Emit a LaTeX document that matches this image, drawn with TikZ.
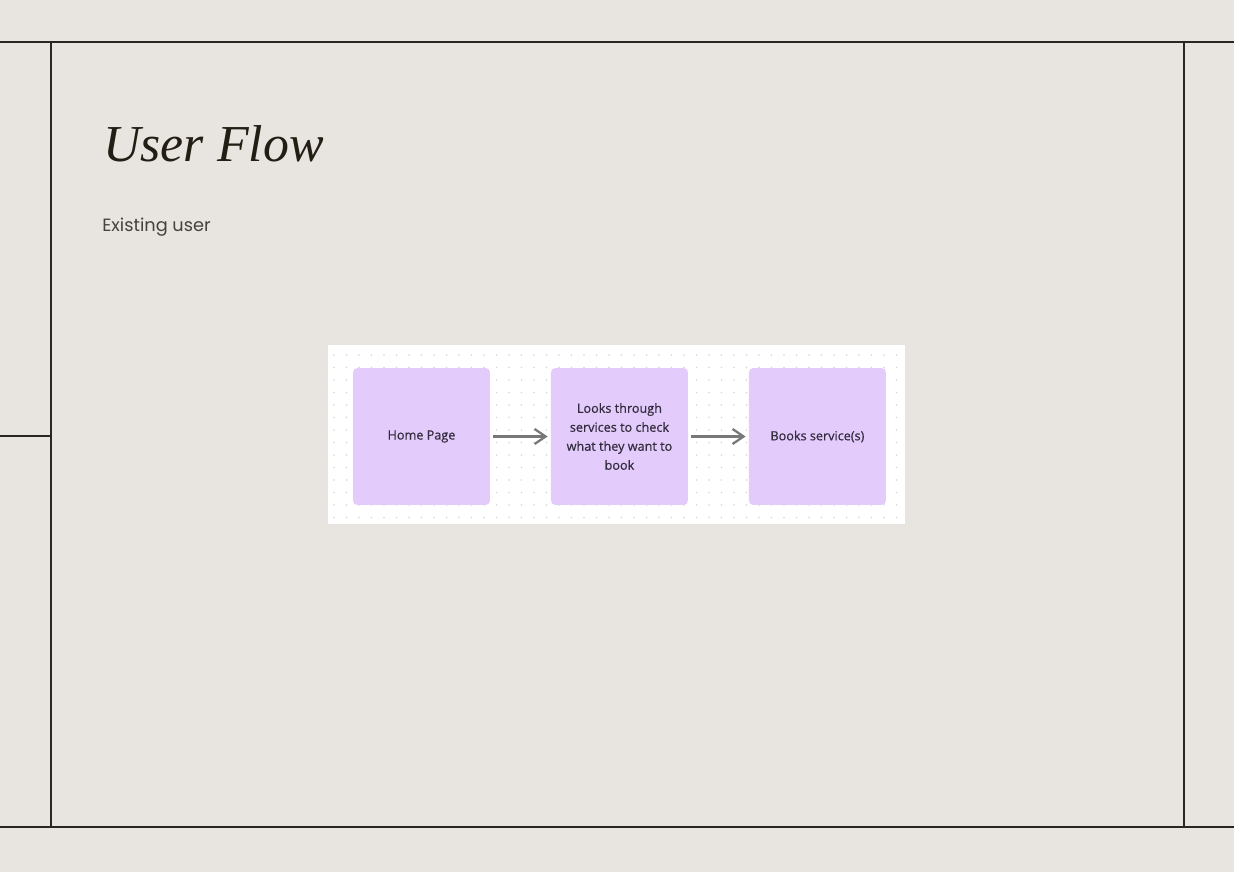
\documentclass[tikz,border=0pt]{standalone}
\usepackage{fontspec}
\setsansfont{Open Sans}
\newfontfamily\subfont{Poppins}
\newfontfamily\titlefont{Liberation Serif}
\newfontfamily\boxfont[FakeBold=0.6]{Open Sans}
\usetikzlibrary{positioning, arrows.meta}

\definecolor{paper}{HTML}{E8E4DF}
\definecolor{frameline}{HTML}{2B2720}
\definecolor{titleink}{HTML}{221E14}
\definecolor{subink}{HTML}{45413B}
\definecolor{boxfill}{HTML}{E3CCFB}
\definecolor{boxink}{HTML}{342C3F}
\definecolor{arrowgray}{HTML}{787878}
\definecolor{dotgray}{HTML}{D6D6DA}

\tikzset{
  frame/.style={draw=frameline, line width=0.85pt},
  stepbox/.style={fill=boxfill, rounded corners=2.5pt, minimum width=2.74cm, minimum height=2.74cm,
    align=center, text=boxink, font=\boxfont\fontsize{7.2}{10.8}\selectfont},
  flowarrow/.style={draw=arrowgray, line width=1.3pt, -{Straight Barb[length=2.2mm, width=3mm]},
    shorten <=0.06cm, shorten >=0.06cm}
}

\begin{document}
\begin{tikzpicture}[x=0.02cm, y=-0.02cm, node distance=3.96cm, on grid]
  \fill[paper] (0,0) rectangle (1234,872);
  \useasboundingbox (0,0) rectangle (1234,872);

  % page frame
  \draw[frame] (0,42) -- (1234,42);
  \draw[frame] (0,827) -- (1234,827);
  \draw[frame] (51,42) -- (51,827);
  \draw[frame] (1184,42) -- (1184,827);
  \draw[frame] (0,436) -- (51,436);

  % headings
  \node[anchor=base west, inner sep=0pt, text=titleink, font=\titlefont\itshape\fontsize{29.5}{34}\selectfont] (title) at (103,161) {User Flow};
  \node[anchor=base west, inner sep=0pt, text=subink, font=\subfont\fontsize{10.1}{12}\selectfont] (subtitle) at (102,231) {Existing user};

  % whiteboard with dot grid
  \fill[white] (328,345) rectangle (905,524);
  \foreach \i in {0,...,45}
    \foreach \j in {0,...,13}
      \fill[dotgray] (334+\i*12.5, 355+\j*12.5) circle (0.45pt);

  % flow
  \node[stepbox] (home) at (421.5,436.5) {Home Page};
  \node[stepbox, right=of home] (browse) {Looks through\\services to check\\what they want to\\book};
  \node[stepbox, right=of browse] (book) {Books service(s)};

  \draw[flowarrow] (home) -- (browse);
  \draw[flowarrow] (browse) -- (book);
\end{tikzpicture}
\end{document}
